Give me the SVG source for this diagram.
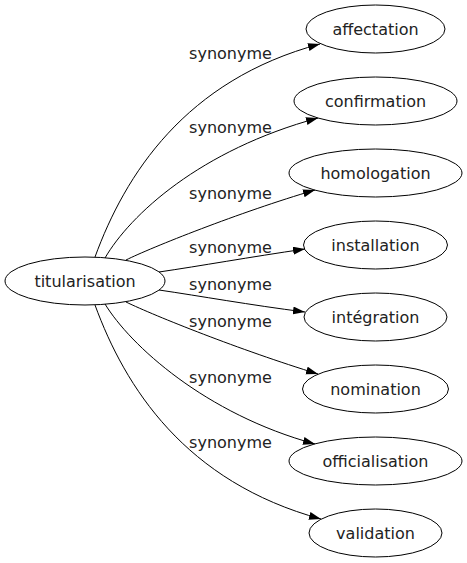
<svg xmlns="http://www.w3.org/2000/svg" width="467" height="563" viewBox="0 0 467 563">
<style>
.n ellipse{fill:none;stroke:#000;stroke-width:1}
text{font-family:"DejaVu Sans",Verdana,sans-serif;font-size:16px;fill:#222;text-anchor:middle}
.e path{fill:none;stroke:#000;stroke-width:1;marker-end:url(#ah)}
</style>
<defs>
<marker id="ah" markerUnits="userSpaceOnUse" markerWidth="13" markerHeight="9" refX="12" refY="4" orient="auto">
<path d="M0,0 L12,4 L0,8 z" fill="#000"/>
</marker>
</defs>
<rect width="467" height="563" fill="#fff"/>
<g id="edges" class="e">
<path d="M95,257 C125,175 185,80 320,44"/>
<path d="M105,258 C130,215 200,150 318,118"/>
<path d="M126,260 C150,248 240,212 315,190"/>
<path d="M159,272 C200,266 250,257 305,249"/>
<path d="M159,290 C200,296 250,305 305,312"/>
<path d="M126,302 C155,316 240,350 318,374"/>
<path d="M105,304 C130,345 205,414 315,444"/>
<path d="M95,305 C125,387 185,482 321,519"/>
</g>
<g id="labels">
<text x="230.5" y="59">synonyme</text>
<text x="230.5" y="133">synonyme</text>
<text x="230.5" y="199">synonyme</text>
<text x="230.5" y="253">synonyme</text>
<text x="230.5" y="290">synonyme</text>
<text x="230.5" y="327">synonyme</text>
<text x="230.5" y="383">synonyme</text>
<text x="230.5" y="448">synonyme</text>
</g>
<g id="titularisation" class="n"><ellipse cx="85" cy="281" rx="80" ry="24"/><text x="85" y="286.5">titularisation</text></g>
<g id="affectation" class="n"><ellipse cx="375.5" cy="29" rx="69.5" ry="24"/><text x="375.5" y="34.5">affectation</text></g>
<g id="confirmation" class="n"><ellipse cx="375.5" cy="101" rx="81.5" ry="24"/><text x="375.5" y="106.5">confirmation</text></g>
<g id="homologation" class="n"><ellipse cx="375.5" cy="173" rx="86.5" ry="24"/><text x="375.5" y="178.5">homologation</text></g>
<g id="installation" class="n"><ellipse cx="375.5" cy="245" rx="72" ry="24"/><text x="375.5" y="250.5">installation</text></g>
<g id="integration" class="n"><ellipse cx="375.5" cy="317" rx="71.5" ry="24"/><text x="375.5" y="322.5">intégration</text></g>
<g id="nomination" class="n"><ellipse cx="375.5" cy="389" rx="73" ry="24"/><text x="375.5" y="394.5">nomination</text></g>
<g id="officialisation" class="n"><ellipse cx="375.5" cy="461" rx="86.5" ry="24"/><text x="375.5" y="466.5">officialisation</text></g>
<g id="validation" class="n"><ellipse cx="375.5" cy="533" rx="66.5" ry="24"/><text x="375.5" y="538.5">validation</text></g>
</svg>
